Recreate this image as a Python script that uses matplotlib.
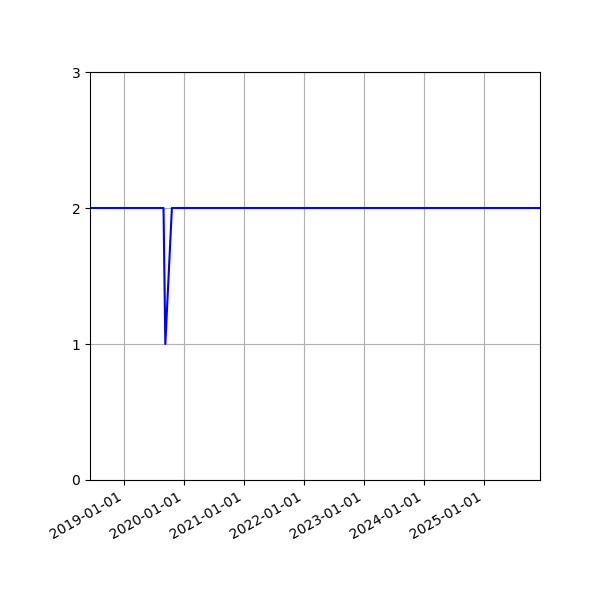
import numpy as np
import matplotlib
matplotlib.use("Agg")
import matplotlib.pyplot as plt
import matplotlib.dates as mdates
from datetime import datetime

# data
fechas = ["2018-06-06", "2019-08-28", "2019-09-08", "2019-10-18", "2025-12-08"]
valores = [2, 2, 1, 2, 2]

x = [datetime.strptime(f, "%Y-%m-%d") for f in fechas]

fig, ax = plt.subplots(figsize=(6, 6), dpi=100)
ax.plot(x, valores, color="blue")
ax.set_xlim(x[0], x[-1])
ax.set_ylim(0, 3)
ax.set_yticks([0, 1, 2, 3])
ax.xaxis.set_major_locator(mdates.YearLocator())
ax.xaxis.set_major_formatter(mdates.DateFormatter("%Y-%m-%d"))
ax.grid(True)
fig.autofmt_xdate()
fig.subplots_adjust(left=0.15, right=0.9, top=0.88, bottom=0.2)
fig.savefig("out.png")
